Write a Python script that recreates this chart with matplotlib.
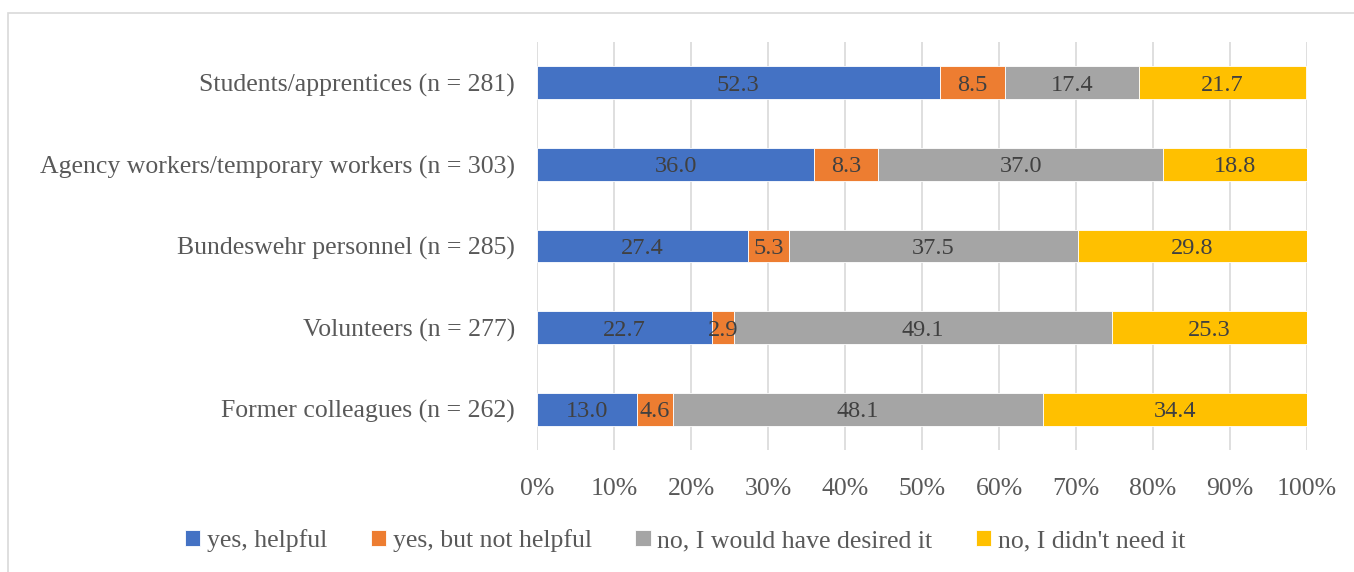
import matplotlib.pyplot as plt
import numpy as np
from matplotlib.patches import Rectangle

# Categories (top to bottom as displayed)
categories = ["Students/apprentices (n = 281)",
              "Agency workers/temporary workers (n = 303)",
              "Bundeswehr personnel (n = 285)",
              "Volunteers (n = 277)",
              "Former colleagues (n = 262)"]

series_names = ["yes, helpful", "yes, but not helpful",
                "no, I would have desired it", "no, I didn't need it"]
yes_helpful = [52.3, 36.0, 27.4, 22.7, 13.0]
yes_not_helpful = [8.5, 8.3, 5.3, 2.9, 4.6]
no_desired = [17.4, 37.0, 37.5, 49.1, 48.1]
no_not_needed = [21.7, 18.8, 29.8, 25.3, 34.4]

colors = ["#4472C4", "#ED7D31", "#A5A5A5", "#FFC000"]
x_ticks = np.arange(0, 101, 10)

plt.rcParams['font.family'] = ['Liberation Serif', 'DejaVu Serif']

fig = plt.figure(figsize=(13.54, 5.72), dpi=100)
ax = fig.add_axes([0.3966, 0.2133, 0.5687, 0.7133])

# Frame around chart area
fig.patches.append(Rectangle((8 / 1354, -0.05), 1.0, 1 - 13 / 572 + 0.05,
                             transform=fig.transFigure, fill=False,
                             edgecolor="#D9D9D9", linewidth=1.2))

y = np.arange(len(categories))
left = np.zeros(len(categories))
all_series = [yes_helpful, yes_not_helpful, no_desired, no_not_needed]
for name, vals, col in zip(series_names, all_series, colors):
    vals = np.array(vals)
    ax.barh(y, vals, left=left, height=0.4, color=col, label=name,
            edgecolor="white", linewidth=0.6, zorder=3)
    for yi, l, v in zip(y, left, vals):
        ax.text(l + v / 2, yi, f"{v:.1f}", ha="center", va="center_baseline",
                fontsize=17.5, color="#404040", zorder=4)
    left += vals

ax.set_xlim(0, 100)
ax.set_ylim(len(categories) - 0.5, -0.5)
ax.set_yticks(y)
ax.set_yticklabels(categories, fontsize=18.5, color="#595959")
ax.set_xticks(x_ticks)
ax.set_xticklabels([f"{t}%" for t in x_ticks], fontsize=18.5, color="#595959")
ax.tick_params(axis="both", length=0)
ax.tick_params(axis="x", pad=20)
ax.tick_params(axis="y", pad=16)
ax.grid(axis="x", color="#D9D9D9", linewidth=1.2, zorder=0)
for s in ax.spines.values():
    s.set_visible(False)

fig.legend(loc="center", bbox_to_anchor=(0.506, 0.055), ncol=4, frameon=False,
           fontsize=18.5, labelcolor="#595959", handlelength=0.6, handleheight=0.6,
           handletextpad=0.25, columnspacing=1.7)

fig.savefig("out.png", dpi=100)
